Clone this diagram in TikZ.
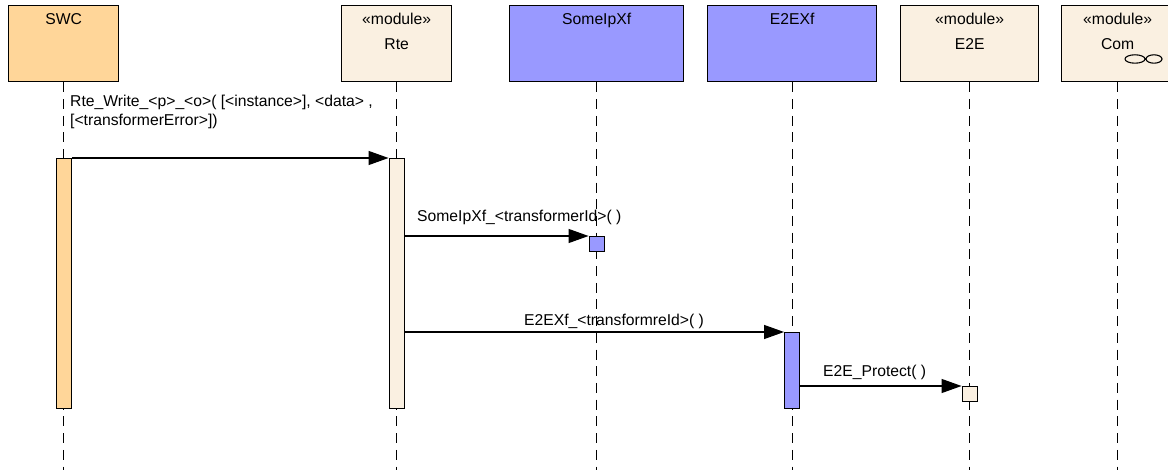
\documentclass[tikz,border=0pt]{standalone}
\usepackage{fontspec}
\setmainfont{Liberation Sans}
\usetikzlibrary{arrows.meta}
\definecolor{swcfill}{HTML}{FFD699}
\definecolor{modfill}{HTML}{FAF0E1}
\definecolor{xffill}{HTML}{9999FF}
\begin{document}
\begin{tikzpicture}[x=1pt,y=-1pt,
  head/.style={draw=black, line width=1.4pt, inner sep=0pt, anchor=north west, minimum height=76pt},
  bar/.style={draw=black, line width=1.3pt, inner sep=0pt, anchor=north, minimum width=15pt},
  lbl/.style={inner sep=0pt, font=\fontsize{15.7}{19.5}\selectfont},
  lifeline/.style={line width=1.3pt, dash pattern=on 10pt off 6.7pt},
  msg/.style={line width=1.3pt, -{Triangle[length=20pt,width=14pt]}}]
\useasboundingbox (0,0) rectangle (1168,470);
\clip (0,0) rectangle (1168,470);
\coordinate (bottom) at (0,470);
% header boxes
\node[head, fill=swcfill, minimum width=110pt] (swc) at (8,5) {};
\node[head, fill=modfill, minimum width=110pt] (rte) at (341,5) {};
\node[head, fill=xffill, minimum width=174pt] (sx) at (509,5) {};
\node[head, fill=xffill, minimum width=169pt] (ex) at (707,5) {};
\node[head, fill=modfill, minimum width=138pt] (e2e) at (900,5) {};
\node[head, fill=modfill, minimum width=112pt] (com) at (1061,5) {};
% header texts
\node[lbl, anchor=base] (swct) at (swc.north |- 0,25) {SWC};
\node[lbl, anchor=base] (rtes) at (rte.north |- 0,25) {«module»};
\node[lbl, anchor=base] (rtet) at (rte.north |- 0,50) {Rte};
\node[lbl, anchor=base] (sxt) at (sx.north |- 0,25) {SomeIpXf};
\node[lbl, anchor=base] (ext) at (ex.north |- 0,25) {E2EXf};
\node[lbl, anchor=base] (e2es) at (e2e.north |- 0,25) {«module»};
\node[lbl, anchor=base] (e2et) at (e2e.north |- 0,50) {E2E};
\node[lbl, anchor=base] (coms) at (com.north |- 0,25) {«module»};
\node[lbl, anchor=base] (comt) at (com.north |- 0,50) {Com};
% Com subsystem icon
\draw[line width=1.1pt] (1135,59) ellipse [x radius=10, y radius=4.2];
\draw[line width=1.1pt] (1154,59) ellipse [x radius=8, y radius=4.2];
\draw[line width=1.1pt] (1145,59) -- (1146,59);
% lifelines
\foreach \n in {swc,rte,sx,ex,e2e,com}
  \draw[lifeline] (\n.south) -- (\n.south |- bottom);
% activation bars
\node[bar, fill=swcfill, minimum height=250pt] (swcbar) at (swc.south |- 0,158) {};
\node[bar, fill=modfill, minimum height=250pt] (rtebar) at (rte.south |- 0,158) {};
\node[bar, fill=xffill, minimum height=15pt] (sxbar) at (sx.south |- 0,236) {};
\node[bar, fill=xffill, minimum height=76pt] (exbar) at (ex.south |- 0,332) {};
\node[bar, fill=modfill, minimum height=15pt] (e2ebar) at (e2e.south |- 0,386) {};
% messages
\draw[msg] (swcbar.north east) -- (rtebar.north west);
\draw[msg] (rtebar.east |- sxbar.north) -- (sxbar.north west);
\draw[msg] (rtebar.east |- exbar.north) -- (exbar.north west);
\draw[msg] (exbar.east |- e2ebar.north) -- (e2ebar.north west);
% message labels
\node[lbl, anchor=base west, align=left] (m1) at (70,126) {Rte\_Write\_<p>\_<o>( [<instance>], <data> ,\\{}[<transformerError>])};
\node[lbl, anchor=base west] (m2) at (417,222) {SomeIpXf\_<transformerId>( )};
\node[lbl, anchor=base west] (m3) at (524,326) {E2EXf\_<transformreId>( )};
\node[lbl, anchor=base west] (m4) at (823,377) {E2E\_Protect( )};
\end{tikzpicture}
\end{document}
